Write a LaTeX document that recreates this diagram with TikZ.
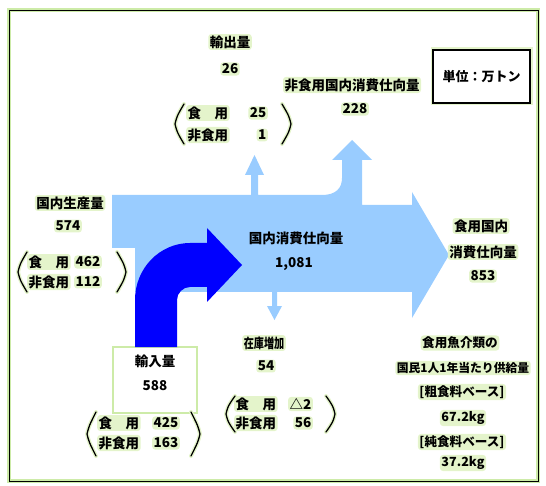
\documentclass[tikz,border=0pt]{standalone}
\usepackage{fontspec}
\usepackage{graphicx}
\setmainfont{Noto Sans CJK JP}
\definecolor{lblue}{HTML}{99CCFF}
\definecolor{dblue}{HTML}{0000FF}
\definecolor{halo}{HTML}{E4F4CB}
\definecolor{boxgreen}{HTML}{CDEBA8}
\begin{document}
\begin{tikzpicture}[x=1pt,y=-1pt,
  base/.style={inner sep=1.5pt, text=black, font=\fontsize{13.5}{15}\selectfont\bfseries},
  lbl/.style={base, fill=halo, rounded corners=3pt},
  plain/.style={base},
  small/.style={lbl, font=\fontsize{12.6}{14}\selectfont\bfseries},
  brk/.style={line width=1.3pt, black, line join=round, line cap=round},
  brkhalo/.style={line width=4pt, halo, line cap=round, line join=round}]
\useasboundingbox (0,0) rectangle (546,486);
% frame
\draw[boxgreen, line width=4pt] (9,10) rectangle (538,481);
\draw[black, line width=0.9pt] (9,10) rectangle (538,481);

% main light blue flow
\fill[lblue] (112,195) -- (251,195) -- (251,175) -- (245,175) -- (254.5,155) -- (264,175) -- (258,175) -- (258,195)
  -- (322,195) .. controls (336,195) and (342,188) .. (342,178) -- (342,160) -- (332,160) -- (352,140) -- (372,160)
  -- (362,160) -- (362,205) -- (412,205) -- (412,192) -- (449,255) -- (412,318) -- (412,292)
  -- (277,292) -- (277,306) -- (282,306) -- (274.5,320) -- (267,306) -- (272,306) -- (272,292)
  -- (135,292) -- (135,248) -- (112,248) -- cycle;

% import box
\node[draw=boxgreen, line width=1.5pt, fill=white, minimum width=84pt, minimum height=66pt, inner sep=0pt] (impbox) at (155,380) {};

% import dark blue arrow
\fill[dblue] (135,347) -- (135,300) .. controls (135,268) and (160,243) .. (190,243) -- (207,243) -- (207,228)
  -- (242,265) -- (207,302) -- (207,287) -- (190,287) .. controls (183,287) and (177,293) .. (177,300) -- (177,347) -- cycle;

% export
\node[lbl] (expT) at (230,42) {輸出量};
\node[lbl] (expN) at (230,69) {26};
\node[lbl, anchor=west] (expF) at (186,113) {食　用};
\node[lbl, anchor=west] (expNF) at (186,135) {非食用};
\node[lbl, anchor=east] (expFn) at (268,113) {25};
\node[lbl, anchor=east] (expNFn) at (268,135) {1};
\coordinate (expL) at (175,124); \coordinate (expR) at (291,124);

% non-food consumption
\node[lbl] (nfT) at (352,85) {非食用国内消費仕向量};
\node[lbl] (nfN) at (355,109) {228};

% unit box
\draw[halo, line width=5pt] (433,50) rectangle (530,103);
\node[draw=black, line width=1.8pt, fill=white, minimum width=97pt, minimum height=53pt, inner sep=0pt,
  font=\fontsize{13}{15}\selectfont\bfseries] (unit) at (481.5,76.5) {単位：万トン};

% production
\node[lbl] (prodT) at (70,203) {国内生産量};
\node[lbl] (prodN) at (68,226) {574};
\node[lbl, anchor=west] (prodF) at (27,262) {食　用};
\node[lbl, anchor=west] (prodNF) at (27,282) {非食用};
\node[lbl, anchor=east] (prodFn) at (102,262) {462};
\node[lbl, anchor=east] (prodNFn) at (102,282) {112};
\coordinate (prodL) at (18,272); \coordinate (prodR) at (126,272);

% total consumption
\node[plain] (totT) at (296,238) {国内消費仕向量};
\node[plain] (totN) at (294,264) {1,081};

% food consumption
\node[lbl] (fdT1) at (481,226) {食用国内};
\node[lbl] (fdT2) at (483,252) {消費仕向量};
\node[lbl] (fdN) at (483,276) {853};

% import
\node[plain] (impT) at (155,361) {輸入量};
\node[plain] (impN) at (155,386) {588};
\node[lbl, anchor=west] (impF) at (97,423) {食　用};
\node[lbl, anchor=west] (impNF) at (97,443) {非食用};
\node[lbl, anchor=east] (impFn) at (180,423) {425};
\node[lbl, anchor=east] (impNFn) at (180,443) {163};
\coordinate (impL) at (87,434); \coordinate (impR) at (200,434);

% stock
\node[lbl] (stT) at (264,343) {\scalebox{0.75}[1]{在庫増加}};
\node[lbl] (stN) at (266,366) {54};
\node[lbl, anchor=west] (stF) at (234,404) {食　用};
\node[lbl, anchor=west] (stNF) at (234,423) {非食用};
\node[lbl, anchor=east] (stFn) at (313,404) {△2};
\node[lbl, anchor=east] (stNFn) at (313,423) {56};
\coordinate (stL) at (226,414); \coordinate (stR) at (335,414);

% brackets
\foreach \c/\h in {expL/20, prodL/20, impL/22, stL/18}{
  \draw[brkhalo] ([shift={(9,-\h)}]\c) .. controls ([shift={(2,-8)}]\c) .. (\c) .. controls ([shift={(2,8)}]\c) .. ([shift={(9,\h)}]\c);
  \draw[brk] ([shift={(9,-\h)}]\c) .. controls ([shift={(2,-8)}]\c) .. (\c) .. controls ([shift={(2,8)}]\c) .. ([shift={(9,\h)}]\c);
}
\foreach \c/\h in {expR/20, prodR/20, impR/22, stR/18}{
  \draw[brkhalo] ([shift={(-9,-\h)}]\c) .. controls ([shift={(-2,-8)}]\c) .. (\c) .. controls ([shift={(-2,8)}]\c) .. ([shift={(-9,\h)}]\c);
  \draw[brk] ([shift={(-9,-\h)}]\c) .. controls ([shift={(-2,-8)}]\c) .. (\c) .. controls ([shift={(-2,8)}]\c) .. ([shift={(-9,\h)}]\c);
}

% per-capita supply
\node[small] (s1) at (460,343) {食用魚介類の};
\node[small, font=\fontsize{11.8}{14}\selectfont\bfseries] (s2) at (463,368) {国民1人1年当たり供給量};
\node[small] (s3) at (462,392) {[粗食料ベース]};
\node[small] (s4) at (463,418) {67.2kg};
\node[small] (s5) at (462,442) {[純食料ベース]};
\node[small] (s6) at (463,463) {37.2kg};
\end{tikzpicture}
\end{document}
